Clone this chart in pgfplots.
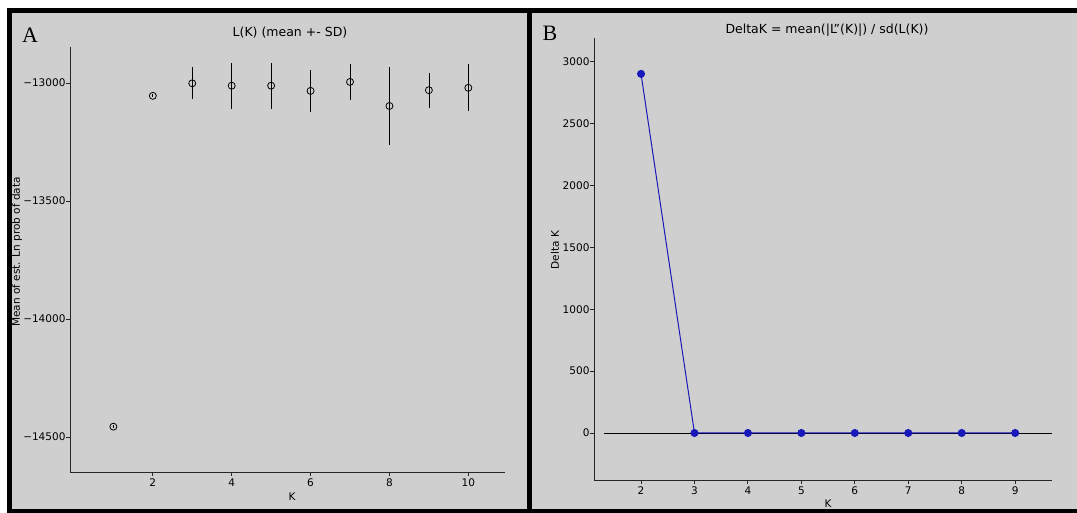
\documentclass[border=0pt]{standalone}
\usepackage{pgfplots}
\pgfplotsset{compat=1.18}
\usepackage{fontspec}
\setmainfont{DejaVu Sans}
\newfontfamily\serifA{Liberation Serif}
\definecolor{panelbg}{RGB}{207,207,207}
\definecolor{dkblue}{RGB}{25,25,185}

\pgfplotstableread{
K m sd
1 -14456 6
2 -13054 6
3 -13001 68
4 -13011 98
5 -13011 98
6 -13033 88
7 -12995 78
8 -13097 167
9 -13030 74
10 -13020 100
}\lktable

\pgfplotstableread{
K dk
2 2903
3 0
4 0
5 0
6 0
7 0
8 0
9 0
}\dktable

\begin{document}
\begin{tikzpicture}
\useasboundingbox (0pt,0pt) rectangle (1077pt,513pt);
\fill[white] (0pt,0pt) rectangle (1077pt,513pt);
\fill[black] (7pt,0pt) rectangle (1077pt,505pt);
\fill[panelbg] (12pt,4pt) rectangle (527pt,500pt);
\fill[panelbg] (532pt,4pt) rectangle (1077pt,500pt);

\pgfplotsset{myax/.style={
  scale only axis, axis lines=left,
  axis line style={-, line width=0.9pt, black!85},
  tick style={line width=0.9pt, black!85},
  tick align=outside, major tick length=4pt,
  ticklabel style={font=\fontsize{10.5}{12}\selectfont},
  yticklabel style={xshift=3pt},
  xticklabel style={yshift=1pt},
  scaled y ticks=false, scaled x ticks=false,
  /pgf/number format/assume math mode=true,
  clip=false}}

\begin{axis}[myax, at={(70pt,41pt)}, anchor=south west,
  width=435pt, height=425pt,
  xmin=-0.1, xmax=10.93, ymin=-14648, ymax=-12847,
  xtick={2,4,6,8,10},
  ytick={-14500,-14000,-13500,-13000},
  yticklabels={−14500,−14000,−13500,−13000}]
\addplot[only marks, mark=o, mark size=3.5pt, black, line width=0.8pt,
  error bars/.cd, y dir=both, y explicit,
  error bar style={line width=0.7pt, black}, error mark=none]
  table[x=K, y=m, y error=sd] {\lktable};
\end{axis}

\begin{axis}[myax, at={(594pt,33pt)}, anchor=south west,
  width=458pt, height=442pt,
  xmin=1.12, xmax=9.69, ymin=-380, ymax=3193,
  xtick={2,3,4,5,6,7,8,9},
  ytick={0,500,1000,1500,2000,2500,3000},
  yticklabels={0,500,1000,1500,2000,2500,3000}]
\addplot[black, line width=0.8pt] coordinates {(1.31,0) (9.69,0)};
\addplot[dkblue, line width=1pt, mark=*, mark size=3.5pt,
  mark options={fill=dkblue, draw=dkblue}] table[x=K, y=dk] {\dktable};
\end{axis}

% panel labels and titles
\node[font=\serifA\fontsize{22}{24}\selectfont] at (30pt,478pt) {A};
\node[font=\fontsize{12.5}{14}\selectfont] at (290pt,480pt) {L(K) (mean +- SD)};
\node[font=\fontsize{10.5}{12}\selectfont, rotate=90] at (17pt,261pt) {Mean of est. Ln prob of data};
\node[font=\fontsize{10.5}{12}\selectfont] at (292pt,16pt) {K};

\node[font=\serifA\fontsize{22}{24}\selectfont] at (550pt,480pt) {B};
\node[font=\fontsize{12.5}{14}\selectfont] at (827pt,483pt) {DeltaK = mean(|L''(K)|) / sd(L(K))};
\node[font=\fontsize{10.5}{12}\selectfont, rotate=90] at (555pt,263pt) {Delta K};
\node[font=\fontsize{10.5}{12}\selectfont] at (828pt,9pt) {K};
\end{tikzpicture}
\end{document}
